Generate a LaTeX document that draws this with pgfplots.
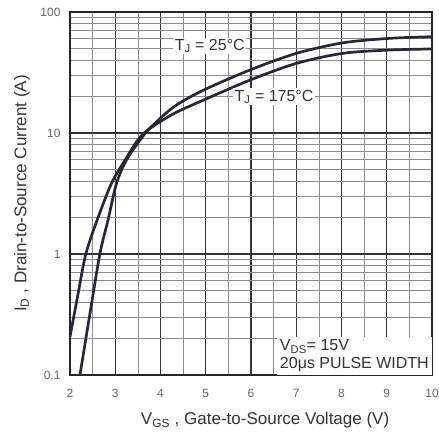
\documentclass[border=0pt]{standalone}
\usepackage{pgfplots}
\pgfplotsset{compat=1.18}
\usepackage{fontspec}
\setmainfont{Liberation Sans}
\definecolor{crv}{RGB}{40,40,50}
\newcommand{\tl}[1]{{\fontsize{12}{12}\selectfont #1}}
\begin{document}
\begin{tikzpicture}
\path[use as bounding box] (-70pt,-59pt) rectangle (369pt,375pt);
\begin{axis}[
  at={(0,0)}, anchor=south west,
  scale only axis, width=362pt, height=363pt,
  ymode=log,
  xmin=2, xmax=10, ymin=0.1, ymax=100,
  xtick={2,3,...,10},
  xticklabels={\tl{2},\tl{3},\tl{4},\tl{5},\tl{6},\tl{7},\tl{8},\tl{9},\tl{10}},
  minor x tick num=1,
  ytick={0.1,1,10,100},
  yticklabels={\tl{0.1},\tl{1},\tl{10},\tl{100}},
  /pgf/number format/assume math mode=true,
  tick label style={text=black!60},
  xticklabel style={yshift=-11pt},
  yticklabel style={xshift=-6pt},
  major tick length=0pt, minor tick length=0pt,
  xmajorgrids, ymajorgrids, xminorgrids, yminorgrids,
  major grid style={draw=black!80, line width=1.2pt},
  minor grid style={draw=black!45, line width=0.7pt},
  axis line style={draw=black!85, line width=1.6pt},
  xlabel={V\textsubscript{GS} , Gate-to-Source Voltage (V)},
  ylabel={I\textsubscript{D} , Drain-to-Source Current (A)},
  label style={font=\fontsize{17}{17}\selectfont, text=black!80},
  xlabel style={at={(axis description cs:0.539,-0.124)}, anchor=center},
  ylabel style={at={(axis description cs:-0.133,0.5)}, anchor=center},
]
% T_J = 175 C
\addplot[draw=crv, line width=2.7pt, smooth, mark=none] coordinates {
 (2.0,0.207) (2.17,0.45) (2.35,1.0) (2.62,2.0) (2.92,3.86) (3.22,6.0)
 (3.5,8.75) (3.75,10.8) (4.3,14.5) (4.95,18.7) (5.98,27.4) (7.01,37.7)
 (8.04,45.6) (9.07,48.5) (10,49.5)
};
% T_J = 25 C
\addplot[draw=crv, line width=2.7pt, smooth, mark=none] coordinates {
 (2.22,0.1) (2.44,0.32) (2.66,1.0) (2.84,1.91) (3.03,3.86) (3.25,6.0)
 (3.55,8.75) (3.77,11.0) (4.3,16.5) (4.95,22.6) (5.98,33.2) (7.01,45.6)
 (8.04,55.7) (9.07,60.6) (10,62.5)
};
\node[fill=white, inner sep=1.5pt, text=black!80, font=\fontsize{16}{16}\selectfont] at (axis cs:5.09,52.4) {T\textsubscript{J} = 25°C};
\node[fill=white, inner sep=1.5pt, text=black!80, font=\fontsize{16}{16}\selectfont] at (axis cs:6.51,19.9) {T\textsubscript{J} = 175°C};
\node[fill=white, anchor=south east, align=left, inner sep=3pt, text=black!80, font=\fontsize{16}{18}\selectfont] at (axis cs:10,0.1) {V\textsubscript{DS}= 15V\\20μs PULSE WIDTH};
\end{axis}
\end{tikzpicture}
\end{document}
